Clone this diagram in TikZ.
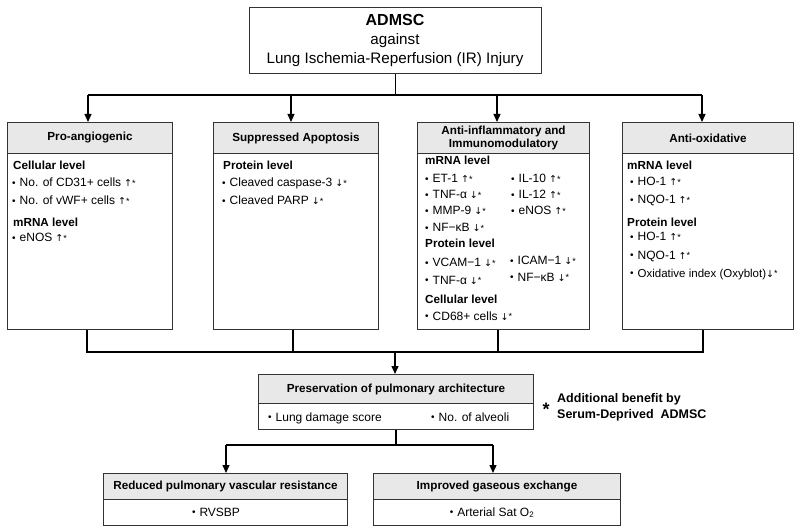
\documentclass[tikz,border=0pt]{standalone}
\usepackage{fontspec}
\setmainfont{Liberation Sans}
\newfontfamily\arrowfont{DejaVu Sans}
\usetikzlibrary{arrows.meta}
\newcommand\upst{\hspace{3pt}{\arrowfont\fontsize{9.5}{10}\selectfont↑}\raisebox{0.5pt}{\fontsize{9}{9}\selectfont*}}
\newcommand\dnst{\hspace{3pt}{\arrowfont\fontsize{9.5}{10}\selectfont↓}\raisebox{0.5pt}{\fontsize{9}{9}\selectfont*}}
\newcommand\bul{\raisebox{0.3pt}{\fontsize{10}{10}\selectfont•}\hspace{4pt}}
\begin{document}
\begin{tikzpicture}[x=1pt,y=-1pt,
  hdr/.style={draw=black!80, line width=1pt, fill=black!9, anchor=north west, inner sep=0pt, align=center, font=\bfseries\fontsize{11.7}{12.5}\selectfont},
  bodybox/.style={draw=black!80, line width=1pt, anchor=north west, inner sep=0pt},
  txt/.style={anchor=base west, inner sep=0pt, font=\fontsize{12}{13}\selectfont},
  ctxt/.style={anchor=base, inner sep=0pt, font=\fontsize{12}{13}\selectfont},
  sub/.style={anchor=base west, inner sep=0pt, font=\bfseries\fontsize{11.7}{13}\selectfont},
  conn/.style={line width=1.2pt, black},
  arr/.style={conn, -{Triangle[length=8pt,width=7pt]}}]
\useasboundingbox[fill=white] (0,0) rectangle (800,529);

% top box
\node[draw=black!80, line width=1pt, minimum width=292pt, minimum height=66pt, anchor=north west, inner sep=0pt] (top) at (249,7) {};
\node[anchor=base, inner sep=0pt, font=\bfseries\fontsize{16}{16}\selectfont] (t1) at (395,26) {ADMSC};
\node[anchor=base, inner sep=0pt, font=\fontsize{15.2}{15}\selectfont] (t2) at (395,45) {against};
\node[anchor=base, inner sep=0pt, font=\fontsize{15.2}{15}\selectfont] (t3) at (395,64) {Lung Ischemia-Reperfusion (IR) Injury};

% four boxes
\node[hdr, minimum width=165pt, minimum height=31pt] (h1) at (7,122) {Pro-angiogenic};
\node[bodybox, minimum width=165pt, minimum height=176pt] (b1) at (7,153) {};
\node[hdr, minimum width=165pt, minimum height=31pt] (h2) at (213,122) {Suppressed Apoptosis};
\node[bodybox, minimum width=165pt, minimum height=176pt] (b2) at (213,153) {};
\node[hdr, minimum width=172pt, minimum height=31pt] (h3) at (417,122) {Anti-inflammatory and\\Immunomodulatory};
\node[bodybox, minimum width=172pt, minimum height=176pt] (b3) at (417,153) {};
\node[hdr, minimum width=171pt, minimum height=31pt] (h4) at (622,122) {Anti-oxidative};
\node[bodybox, minimum width=171pt, minimum height=176pt] (b4) at (622,153) {};

% box 1 text
\node[sub] (s11) at (13,170) {Cellular level};
\node[txt] (i11) at (12,187) {\bul No. of CD31+ cells\upst};
\node[txt] (i12) at (12,205) {\bul No. of vWF+ cells\upst};
\node[sub] (s12) at (13,227) {mRNA level};
\node[txt] (i13) at (12,242) {\bul eNOS\upst};

% box 2 text
\node[sub] (s21) at (223,170) {Protein level};
\node[txt] (i21) at (222,187) {\bul Cleaved caspase-3\dnst};
\node[txt] (i22) at (222,205) {\bul Cleaved PARP\dnst};

% box 3 text
\node[sub] (s31) at (425,165) {mRNA level};
\node[txt] (i31) at (425,183) {\bul ET-1\upst};
\node[txt] (i32) at (425,199) {\bul TNF-α\dnst};
\node[txt] (i33) at (425,215) {\bul MMP-9\dnst};
\node[txt] (i34) at (425,232) {\bul NF−κB\dnst};
\node[txt] (i35) at (511,183) {\bul IL-10\upst};
\node[txt] (i36) at (511,199) {\bul IL-12\upst};
\node[txt] (i37) at (511,215) {\bul eNOS\upst};
\node[sub] (s32) at (425,248) {Protein level};
\node[txt] (i38) at (425,267) {\bul VCAM−1\dnst};
\node[txt] (i39) at (425,284) {\bul TNF-α\dnst};
\node[txt] (i3a) at (510,265) {\bul ICAM−1\dnst};
\node[txt] (i3b) at (510,281) {\bul NF−κB\dnst};
\node[sub] (s33) at (425,303) {Cellular level};
\node[txt] (i3c) at (425,320) {\bul CD68+ cells\dnst};

% box 4 text
\node[sub] (s41) at (627,170) {mRNA level};
\node[txt] (i41) at (630,186) {\bul HO-1\upst};
\node[txt] (i42) at (630,204) {\bul NQO-1\upst};
\node[sub] (s42) at (627,227) {Protein level};
\node[txt] (i43) at (630,241) {\bul HO-1\upst};
\node[txt] (i44) at (630,259) {\bul NQO-1\upst};
\node[txt, font=\fontsize{11.5}{13}\selectfont] (i45) at (630,277) {\bul Oxidative index (Oxyblot){\arrowfont\fontsize{9.5}{10}\selectfont↓}\raisebox{0.5pt}{\fontsize{9}{9}\selectfont*}};

% top tree
\coordinate (ja) at (88,95);
\coordinate (jb) at (291,95);
\coordinate (jc) at (497,95);
\coordinate (jd) at (702,95);
\draw[conn] (top.south) -- (top.south |- ja);
\draw[conn] (ja) -- (jd);
\draw[arr] (ja) -- (ja |- h1.north);
\draw[arr] (jb) -- (jb |- h2.north);
\draw[arr] (jc) -- (jc |- h3.north);
\draw[arr] (jd) -- (jd |- h4.north);

% merge
\coordinate (ma) at (87,352);
\coordinate (mb) at (293,352);
\coordinate (mc) at (498,352);
\coordinate (md) at (703,352);
\coordinate (mm) at (395,352);
\draw[conn] (ma |- b1.south) -- (ma) -- (md) -- (md |- b4.south);
\draw[conn] (mb |- b2.south) -- (mb);
\draw[conn] (mc |- b3.south) -- (mc);

% preservation
\node[hdr, minimum width=275pt, minimum height=29pt] (ph) at (258,374) {Preservation of pulmonary architecture};
\node[bodybox, minimum width=275pt, minimum height=26pt] (pb) at (258,403) {};
\draw[arr] (mm) -- (mm |- ph.north);
\node[txt] (p1) at (268,421) {\bul Lung damage score};
\node[txt] (p2) at (431,421) {\bul No. of alveoli};

% note
\node[anchor=base, inner sep=0pt, font=\bfseries\fontsize{18}{18}\selectfont] (star) at (546,415) {*};
\node[anchor=base west, inner sep=0pt, font=\bfseries\fontsize{12.5}{14}\selectfont] (n1) at (557,402) {Additional benefit by};
\node[anchor=base west, inner sep=0pt, font=\bfseries\fontsize{12.5}{14}\selectfont] (n2) at (557,418) {Serum-Deprived\ \ ADMSC};

% bottom
\node[hdr, minimum width=244pt, minimum height=26pt] (lh) at (103,473) {Reduced pulmonary vascular resistance};
\node[bodybox, minimum width=244pt, minimum height=26pt] (lb) at (103,499) {};
\node[hdr, minimum width=247pt, minimum height=26pt] (rh) at (373,473) {Improved gaseous exchange};
\node[bodybox, minimum width=247pt, minimum height=26pt] (rb) at (373,499) {};
\node[ctxt] (r1) at (216,516) {\bul RVSBP};
\node[ctxt] (r2) at (492,516) {\bul Arterial Sat O\textsubscript{2}};

\coordinate (bl) at (226,445);
\coordinate (br) at (493,445);
\draw[conn] (pb.south) -- (pb.south |- bl);
\draw[conn] (bl) -- (br);
\draw[arr] (bl) -- (bl |- lh.north);
\draw[arr] (br) -- (br |- rh.north);
\end{tikzpicture}
\end{document}
